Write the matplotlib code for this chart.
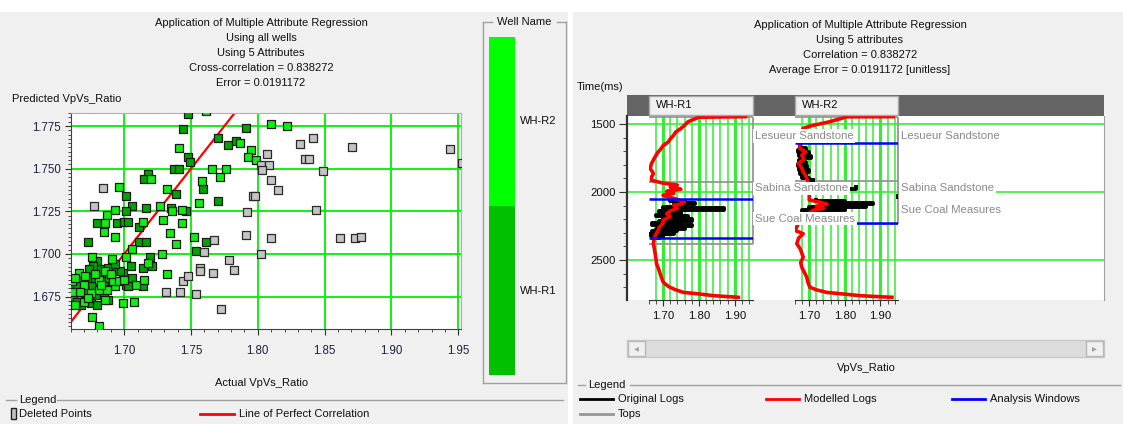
import numpy as np
import matplotlib.pyplot as plt
import matplotlib.transforms as mtransforms
from matplotlib.patches import Rectangle
from matplotlib.lines import Line2D

plt.rcParams['font.family'] = ['Liberation Sans', 'DejaVu Sans']

W, H = 1123, 424

# ---- crossplot data (actual vs predicted VpVs ratio) ----
r1_actual = [1.748, 1.744, 1.791, 1.770, 1.778, 1.784, 1.748, 1.749, 1.737, 1.741,
             1.718, 1.715, 1.759, 1.701, 1.739, 1.770, 1.706, 1.716, 1.735, 1.746,
             1.701, 1.680, 1.695, 1.700, 1.703, 1.711, 1.673, 1.711, 1.716, 1.761,
             1.754, 1.719, 1.679, 1.721, 1.714, 1.705, 1.701, 1.703, 1.714, 1.699,
             1.697, 1.692, 1.688, 1.683, 1.682, 1.680, 1.677, 1.674, 1.677, 1.685,
             1.689, 1.672, 1.666, 1.660, 1.665, 1.676, 1.679, 1.685, 1.688, 1.671,
             1.662, 1.665, 1.668, 1.675, 1.680, 1.693, 1.706]
r1_pred = [1.782, 1.773, 1.774, 1.768, 1.764, 1.766, 1.757, 1.754, 1.750, 1.750,
           1.747, 1.744, 1.738, 1.734, 1.735, 1.731, 1.728, 1.727, 1.727, 1.725,
           1.725, 1.718, 1.718, 1.719, 1.719, 1.716, 1.707, 1.707, 1.707, 1.707,
           1.702, 1.698, 1.696, 1.693, 1.692, 1.693, 1.682, 1.681, 1.681, 1.689,
           1.690, 1.691, 1.692, 1.688, 1.691, 1.696, 1.693, 1.691, 1.686, 1.684,
           1.686, 1.684, 1.685, 1.680, 1.681, 1.681, 1.676, 1.676, 1.673, 1.677,
           1.675, 1.672, 1.670, 1.671, 1.670, 1.694, 1.686]

r2_actual = [1.761, 1.787, 1.795, 1.793, 1.799, 1.741, 1.766, 1.776, 1.720, 1.758,
             1.772, 1.696, 1.732, 1.756, 1.693, 1.727, 1.736, 1.743, 1.687, 1.686,
             1.685, 1.714, 1.729, 1.743, 1.693, 1.734, 1.752, 1.739, 1.706, 1.728,
             1.701, 1.676, 1.691, 1.718, 1.732, 1.715, 1.709, 1.693, 1.686, 1.666,
             1.671, 1.681, 1.692, 1.661, 1.670, 1.681, 1.687, 1.696, 1.675, 1.686,
             1.667, 1.699, 1.707, 1.676, 1.681, 1.663, 1.661, 1.663, 1.670, 1.673,
             1.678, 1.683, 1.690, 1.700, 1.810, 1.822]
r2_pred = [1.784, 1.765, 1.761, 1.757, 1.755, 1.762, 1.750, 1.750, 1.744, 1.743,
           1.745, 1.739, 1.738, 1.730, 1.726, 1.728, 1.725, 1.726, 1.723, 1.718,
           1.713, 1.719, 1.720, 1.718, 1.710, 1.712, 1.710, 1.706, 1.703, 1.700,
           1.698, 1.698, 1.697, 1.695, 1.688, 1.685, 1.682, 1.681, 1.690, 1.689,
           1.687, 1.685, 1.684, 1.684, 1.682, 1.679, 1.679, 1.684, 1.677, 1.673,
           1.678, 1.671, 1.672, 1.663, 1.658, 1.670, 1.678, 1.686, 1.672, 1.674,
           1.688, 1.682, 1.688, 1.685, 1.776, 1.775]

deleted_actual = [1.6845, 1.6775, 1.7314, 1.7414, 1.7442, 1.7474, 1.7539, 1.7569, 1.7569, 1.7594,
                  1.7664, 1.7671, 1.7721, 1.7786, 1.7818, 1.7911, 1.7918, 1.7966, 1.8020, 1.8080,
                  1.8030, 1.8025, 1.8065, 1.8098, 1.8153, 1.8315, 1.8350, 1.8380, 1.8410, 1.8432,
                  1.8487, 1.8707, 1.9438, 1.9527, 1.8098, 1.8612, 1.8729, 1.8774, 1.7981]
deleted_pred = [1.7387, 1.7284, 1.6777, 1.6775, 1.6840, 1.6873, 1.6767, 1.6918, 1.6902, 1.7012,
                1.6889, 1.7080, 1.6675, 1.6965, 1.6908, 1.7111, 1.7246, 1.7338, 1.7522, 1.7522,
                1.7493, 1.7000, 1.7585, 1.7436, 1.7376, 1.7645, 1.7554, 1.7559, 1.7677, 1.7258,
                1.7487, 1.7628, 1.7616, 1.7536, 1.7094, 1.7094, 1.7094, 1.7100, 1.7342]

well_names = ['WH-R1', 'WH-R2']
well_colors = ['#00c000', '#00ff00']
point_colors = ['#00a400', '#11ee11']

# ---- well log data (time ms, VpVs ratio) ----
r1_mod_t = [1446, 1450, 1483, 1510, 1532, 1560, 1581, 1610, 1631, 1660, 1680, 1710, 1741, 1770,
            1790, 1827, 1850, 1864, 1890, 1914, 1935, 1950, 1965, 1980, 1995, 2010, 2025, 2040,
            2055, 2075, 2090, 2098, 2120, 2140, 2160, 2180, 2209, 2230, 2258, 2290, 2320, 2345,
            2381, 2420, 2455, 2490, 2529, 2570, 2603, 2640, 2665, 2690, 2702, 2720, 2739, 2750,
            2763, 2770, 2775]
r1_mod_v = [1.930, 1.800, 1.770, 1.760, 1.750, 1.735, 1.730, 1.720, 1.715, 1.700, 1.695, 1.685,
            1.678, 1.672, 1.668, 1.664, 1.670, 1.673, 1.668, 1.668, 1.700, 1.740, 1.720, 1.750,
            1.710, 1.730, 1.700, 1.720, 1.740, 1.760, 1.750, 1.730, 1.740, 1.720, 1.710, 1.720,
            1.700, 1.700, 1.690, 1.685, 1.678, 1.675, 1.673, 1.676, 1.678, 1.680, 1.682, 1.688,
            1.692, 1.697, 1.701, 1.712, 1.720, 1.735, 1.757, 1.800, 1.840, 1.880, 1.910]
r1_orig_t = [2060, 2070, 2080, 2090, 2100, 2110, 2120, 2130, 2140, 2150, 2160, 2170, 2180, 2190,
             2200, 2210, 2220, 2230, 2240, 2250, 2260, 2270, 2280, 2290, 2300, 2310, 2320, 2330, 2340]
r1_orig_v = [1.720, 1.760, 1.790, 1.730, 1.760, 1.700, 1.870, 1.740, 1.690, 1.750, 1.720, 1.680,
             1.770, 1.700, 1.780, 1.690, 1.750, 1.670, 1.780, 1.700, 1.760, 1.680, 1.740, 1.670,
             1.730, 1.660, 1.700, 1.670, 1.690]

r2_mod_t = [1446, 1447, 1483, 1515, 1532, 1580, 1630, 1680, 1705, 1729, 1760, 1790, 1820, 1852,
            1880, 1901, 1950, 2000, 2060, 2075, 2090, 2105, 2120, 2135, 2180, 2230, 2283, 2307,
            2340, 2381, 2420, 2480, 2520, 2554, 2590, 2628, 2670, 2702, 2720, 2739, 2752, 2763,
            2770, 2775]
r2_mod_v = [1.936, 1.805, 1.758, 1.702, 1.683, 1.675, 1.672, 1.674, 1.690, 1.679, 1.685, 1.669,
            1.678, 1.683, 1.690, 1.693, 1.700, 1.700, 1.700, 1.730, 1.750, 1.720, 1.740, 1.710,
            1.690, 1.670, 1.660, 1.683, 1.670, 1.665, 1.675, 1.683, 1.676, 1.679, 1.686, 1.693,
            1.697, 1.702, 1.720, 1.749, 1.800, 1.843, 1.890, 1.932]
r2_orig_t = [1660, 1675, 1690, 1705, 1720, 1735, 1750, 1765, 1780, 1795, 1810, 1825, 1840, 1855,
             1870, 1885, 1900, 1915, np.nan, 1962, 1980, np.nan, 2030, 2040, np.nan,
             2060, 2070, 2080, 2090, 2100, 2110, 2120, 2130, 2140]
r2_orig_v = [1.675, 1.690, 1.668, 1.700, 1.672, 1.705, 1.680, 1.670, 1.690, 1.668, 1.695, 1.672,
             1.700, 1.675, 1.690, 1.680, 1.700, 1.710, np.nan, 1.830, 1.820, np.nan, 1.950, 1.950,
             np.nan, 1.720, 1.800, 1.880, 1.740, 1.860, 1.700, 1.800, 1.680, 1.760]

top_names = ['Lesueur Sandstone', 'Sabina Sandstone', 'Sue Coal Measures']
r1_top_lines = [1446, 1930, 2381]
r1_top_labels = [1589, 1973, 2196]
r2_top_lines = [1446, 1921, 2238]
r2_top_labels = [1589, 1968, 2130]
r1_windows = [2054, 2340]
r2_windows = [1638, 2228]

FS = 8


def box(x0, y0, x1, y1):
    return [x0 / W, 1 - y1 / H, (x1 - x0) / W, (y1 - y0) / H]


def fx(x):
    return x / W


def fy(y):
    return 1 - y / H


def rect(x0, y0, x1, y1, fc, ec='none', lw=1.0, z=0):
    fig.add_artist(Rectangle((fx(x0), fy(y1)), (x1 - x0) / W, (y1 - y0) / H,
                             transform=fig.transFigure, facecolor=fc, edgecolor=ec,
                             linewidth=lw, zorder=z))


def hline(x0, x1, y, color, lw=1.0):
    fig.add_artist(Line2D([fx(x0), fx(x1)], [fy(y), fy(y)], transform=fig.transFigure,
                          color=color, lw=lw))


def vline(x, y0, y1, color, lw=1.0):
    fig.add_artist(Line2D([fx(x), fx(x)], [fy(y0), fy(y1)], transform=fig.transFigure,
                          color=color, lw=lw))


fig = plt.figure(figsize=(W / 100, H / 100), dpi=100)
fig.patch.set_facecolor('#f0f0f0')
rect(0, 0, W, 12, 'white')
rect(568, 0, 573, H, 'white')

# ---------------- left panel ----------------
title_l = ['Application of Multiple Attribute Regression', 'Using all wells', 'Using 5 Attributes',
           'Cross-correlation = 0.838272', 'Error = 0.0191172']
for i, s in enumerate(title_l):
    fig.text(fx(261), fy(23 + 15 * i), s, ha='center', va='center', fontsize=FS, color='#101010')
fig.text(fx(12), fy(99), 'Predicted VpVs_Ratio', ha='left', va='center', fontsize=FS, color='#101010')
fig.text(fx(262), fy(383), 'Actual VpVs_Ratio', ha='center', va='center', fontsize=FS, color='#101010')

ax = fig.add_axes(box(70.7, 112.7, 461, 328.7))
ax.set_facecolor('white')
ax.set_xlim(1.660, 1.952)
ax.set_ylim(1.6562, 1.7828)
ax.set_xticks(np.arange(1.70, 1.951, 0.05))
ax.set_xticks(np.arange(1.66, 1.951, 0.01), minor=True)
ax.set_yticks(np.arange(1.675, 1.7751, 0.025))
ax.set_yticks(np.arange(1.6575, 1.7826, 0.0025), minor=True)
ax.set_xticklabels(['%.2f' % v for v in ax.get_xticks()])
ax.set_yticklabels(['%.3f' % v for v in ax.get_yticks()])
ax.grid(True, which='major', color='#00f000', lw=1.3, zorder=1)
ax.tick_params(which='both', direction='out', colors='#303030', labelcolor='#202040', labelsize=8.3)
ax.tick_params(which='major', length=4, pad=3)
ax.tick_params(which='minor', length=2.5)
ax.tick_params(axis='x', pad=8)
for side in ['top', 'right']:
    ax.spines[side].set_color('#b0b0b0')
for side in ['left', 'bottom']:
    ax.spines[side].set_color('#404040')
ax.set_axisbelow(True)
lims = ax.get_xlim()
ax.plot(lims, lims, color='#ff0000', lw=1.6, zorder=2)
ax.scatter(r1_actual, r1_pred, s=32, marker='s', c=point_colors[0], edgecolors='#1a1a1a',
           linewidths=0.9, zorder=3)
ax.scatter(r2_actual, r2_pred, s=32, marker='s', c=point_colors[1], edgecolors='#1a1a1a',
           linewidths=0.9, zorder=3)
ax.scatter(deleted_actual, deleted_pred, s=32, marker='s', c='#c4c4c4', edgecolors='#2a2a2a',
           linewidths=0.9, zorder=3)

# well name colour bar
hline(483, 492, 22, '#a0a0a0')
hline(557, 566, 22, '#a0a0a0')
vline(483, 22, 383, '#a0a0a0')
vline(566, 22, 383, '#a0a0a0')
hline(483, 566, 383, '#a0a0a0')
fig.text(fx(524.5), fy(22), 'Well Name', ha='center', va='center', fontsize=FS, color='#101010')
axc = fig.add_axes(box(489, 37, 515, 375))
axc.bar([0, 0], [1, 1], bottom=[0, 1], width=1, color=well_colors)
axc.set_xlim(-0.5, 0.5)
axc.set_ylim(0, 2)
axc.axis('off')
for i, name in enumerate(well_names):
    axc.text(1.2, i + 0.5, name, transform=axc.get_yaxis_transform(), ha='left', va='center',
             fontsize=FS, color='#101010')

# left legend
hline(6, 16, 400, '#a0a0a0')
hline(57, 563, 400, '#a0a0a0')
fig.text(fx(19), fy(400), 'Legend', ha='left', va='center', fontsize=FS, color='#101010')
rect(11, 408, 16, 419, '#c4c4c4', ec='#202020', lw=1)
fig.text(fx(19), fy(414), 'Deleted Points', ha='left', va='center', fontsize=FS, color='#101010')
hline(200, 234, 414, '#ff0000', lw=2)
fig.text(fx(239), fy(414), 'Line of Perfect Correlation', ha='left', va='center', fontsize=FS,
         color='#101010')

# ---------------- right panel ----------------
title_r = ['Application of Multiple Attribute Regression', 'Using 5 attributes',
           'Correlation = 0.838272', 'Average Error = 0.0191172 [unitless]']
for i, s in enumerate(title_r):
    fig.text(fx(860), fy(25 + 15 * i), s, ha='center', va='center', fontsize=FS, color='#101010')
fig.text(fx(577), fy(87), 'Time(ms)', ha='left', va='center', fontsize=FS, color='#101010')

axr = fig.add_axes(box(627, 116, 1104, 300))
axr.set_facecolor('white')
axr.set_ylim(2795, 1441)
axr.set_xlim(0, 1)
axr.set_xticks([])
axr.set_yticks([1500, 2000, 2500])
axr.set_yticks(np.arange(1500, 2800, 100), minor=True)
axr.tick_params(axis='y', which='both', direction='out', colors='#303030', labelcolor='#101010',
                labelsize=8.2)
axr.tick_params(axis='y', which='major', length=6, pad=2)
axr.tick_params(axis='y', which='minor', length=3)
for t in axr.get_yticks():
    axr.axhline(t, color='#22ee22', lw=1.1, zorder=1)
axr.spines['top'].set_visible(False)
axr.spines['bottom'].set_visible(False)
axr.spines['right'].set_color('#a0a0a0')
axr.spines['left'].set_color('#303030')
axr.spines['left'].set_linewidth(1.6)

# header strip
rect(627, 95, 1104, 116, '#646464')

tracks = [
    (well_names[0], 648.7, 752.7, r1_mod_t, r1_mod_v, r1_orig_t, r1_orig_v, r1_top_lines, r1_windows),
    (well_names[1], 795.0, 898.3, r2_mod_t, r2_mod_v, r2_orig_t, r2_orig_v, r2_top_lines, r2_windows),
]
for name, x0, x1, mt, mv, ot, ov, tops, wins in tracks:
    rect(x0, 96, x1, 114.5, '#f0f0f0', ec='#a8a8a8', lw=1, z=2)
    fig.text(fx(x0 + 7), fy(105.5), name, ha='left', va='center', fontsize=FS, color='#101010', zorder=3)
    axt = fig.add_axes(box(x0, 116, x1, 300), sharey=axr)
    axt.patch.set_alpha(0)
    axt.set_xlim(1.66, 1.95)
    for v in np.arange(1.68, 1.945, 0.02):
        major = int(round(v * 100)) % 10 == 0
        axt.axvline(v, color='#33ee33', lw=2.2 if major else 1.1, zorder=1)
    axt.hlines(tops, 1.66, 1.95, color='#959595', lw=1.3, zorder=2)
    axt.vlines(1.95, tops[0], tops[-1], color='#959595', lw=1.3, zorder=2, clip_on=False)
    axt.plot(ov, ot, color='black', lw=2.8, drawstyle='steps-pre', zorder=3)
    axt.plot(mv, mt, color='#ff0000', lw=2.6, zorder=4)
    axt.hlines(wins, 1.66, 1.95, color='#0000ff', lw=1.8, zorder=5)
    for side in ['top', 'right', 'left']:
        axt.spines[side].set_visible(False)
    axt.spines['bottom'].set_color('#303030')
    axt.set_xticks([1.70, 1.80, 1.90])
    axt.set_xticklabels(['1.70', '1.80', '1.90'])
    axt.set_xticks(np.arange(1.66, 1.951, 0.02), minor=True)
    axt.tick_params(axis='x', which='both', direction='out', colors='#303030', labelcolor='#101010',
                    labelsize=8.2)
    axt.tick_params(axis='x', which='major', length=4, pad=4)
    axt.tick_params(axis='x', which='minor', length=3)
    axt.tick_params(axis='y', which='both', left=False, labelleft=False)

# tops labels, drawn above all tracks
trans = mtransforms.blended_transform_factory(fig.transFigure, axr.transData)
for xpos, label_t in [(755, r1_top_labels), (901, r2_top_labels)]:
    for name, t in zip(top_names, label_t):
        fig.text(fx(xpos), t, name, transform=trans, ha='left', va='center', fontsize=8.2,
                 color='#8a8a8a', zorder=6,
                 bbox=dict(facecolor='white', edgecolor='none', pad=1.2))

# scroll bar
rect(627, 340, 1104, 357, '#dcdcdc', ec='#c8c8c8')
rect(628, 341, 645, 356, '#f0f0f0', ec='#b8b8b8', z=2)
rect(1086, 341, 1103, 356, '#f0f0f0', ec='#b8b8b8', z=2)
fig.text(fx(636.5), fy(348.5), '\u25c2', ha='center', va='center', fontsize=7, color='#a0a0a0',
         family=['DejaVu Sans'])
fig.text(fx(1094.5), fy(348.5), '\u25b8', ha='center', va='center', fontsize=7, color='#a0a0a0',
         family=['DejaVu Sans'])
fig.text(fx(866), fy(368), 'VpVs_Ratio', ha='center', va='center', fontsize=FS, color='#101010')

# right legend
hline(578, 585, 385, '#a0a0a0')
hline(630, 1120, 385, '#a0a0a0')
fig.text(fx(588), fy(385), 'Legend', ha='left', va='center', fontsize=FS, color='#101010')
legend_items = [('Original Logs', 'black', 580, 399), ('Modelled Logs', '#ff0000', 766, 399),
                ('Analysis Windows', '#0000ff', 952, 399), ('Tops', '#959595', 580, 414)]
for label, color, x, y in legend_items:
    hline(x, x + 33, y, color, lw=2)
    fig.text(fx(x + 38), fy(y), label, ha='left', va='center', fontsize=FS, color='#101010')

fig.savefig('out.png', dpi=100, facecolor=fig.get_facecolor())
